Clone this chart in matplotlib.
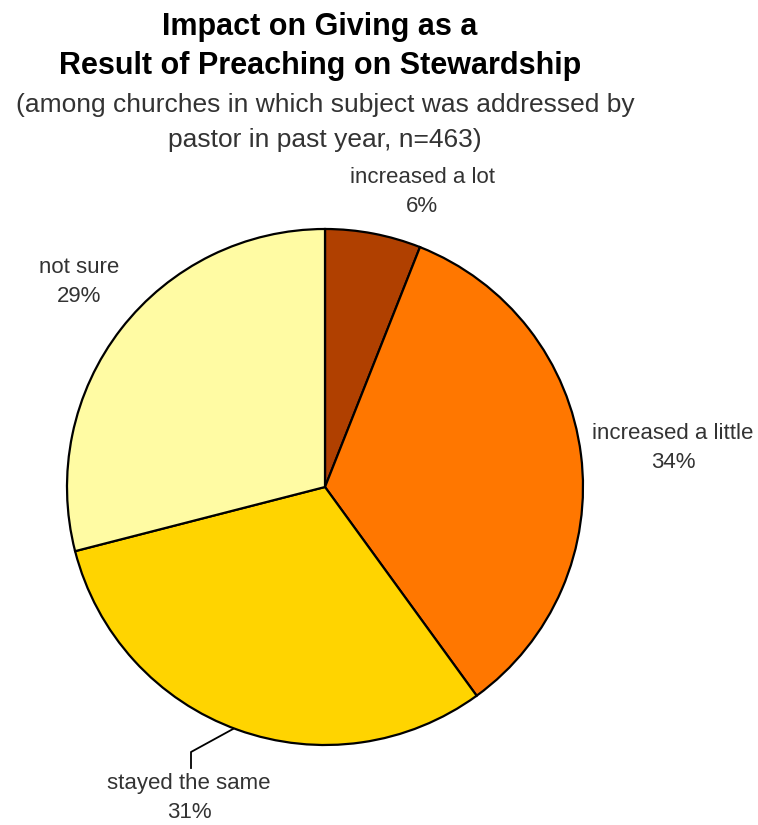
import matplotlib
matplotlib.use("Agg")
import matplotlib.pyplot as plt

categories = ["increased a lot", "increased a little", "stayed the same", "not sure"]
values = [6, 34, 31, 29]
pct_labels = ["6%", "34%", "31%", "29%"]
colors = ["#B04000", "#FF7700", "#FFD400", "#FFFBA3"]

W, H = 758, 825
fig = plt.figure(figsize=(W / 100, H / 100), dpi=100)
ax = fig.add_axes([0, 0, 1, 1])

def Y(y):
    return H - y

cx, cy, r = 325, 487, 258
ax.pie(values, colors=colors, startangle=90, counterclock=False,
       center=(cx, Y(cy)), radius=r, frame=True,
       wedgeprops=dict(edgecolor="black", linewidth=1.6))
ax.set_xlim(0, W)
ax.set_ylim(0, H)
ax.set_aspect("equal")
ax.axis("off")

font = "Liberation Sans"
tc = "#333333"
ax.text(320, Y(35), "Impact on Giving as a", ha="center", va="baseline",
        fontsize=22, fontweight="bold", family=font, color="black")
ax.text(320, Y(74), "Result of Preaching on Stewardship", ha="center", va="baseline",
        fontsize=22, fontweight="bold", family=font, color="black")
ax.text(325, Y(112), "(among churches in which subject was addressed by", ha="center",
        va="baseline", fontsize=19, family=font, color=tc)
ax.text(325, Y(147), "pastor in past year, n=463)", ha="center",
        va="baseline", fontsize=19, family=font, color=tc)

label_pos = [(422, 183), (673, 439), (189, 789), (79, 273)]
for name, pct, (x, y) in zip(categories, pct_labels, label_pos):
    ax.text(x, Y(y), name, ha="center", va="baseline", fontsize=16,
            family=font, color=tc)
    ax.text(x, Y(y + 29), pct, ha="center", va="baseline", fontsize=16,
            family=font, color=tc)

# leader line for "stayed the same"
ax.plot([233, 191, 191], [Y(729), Y(752), Y(768)], color="black", linewidth=1.3)

fig.savefig("out.png", dpi=100)
